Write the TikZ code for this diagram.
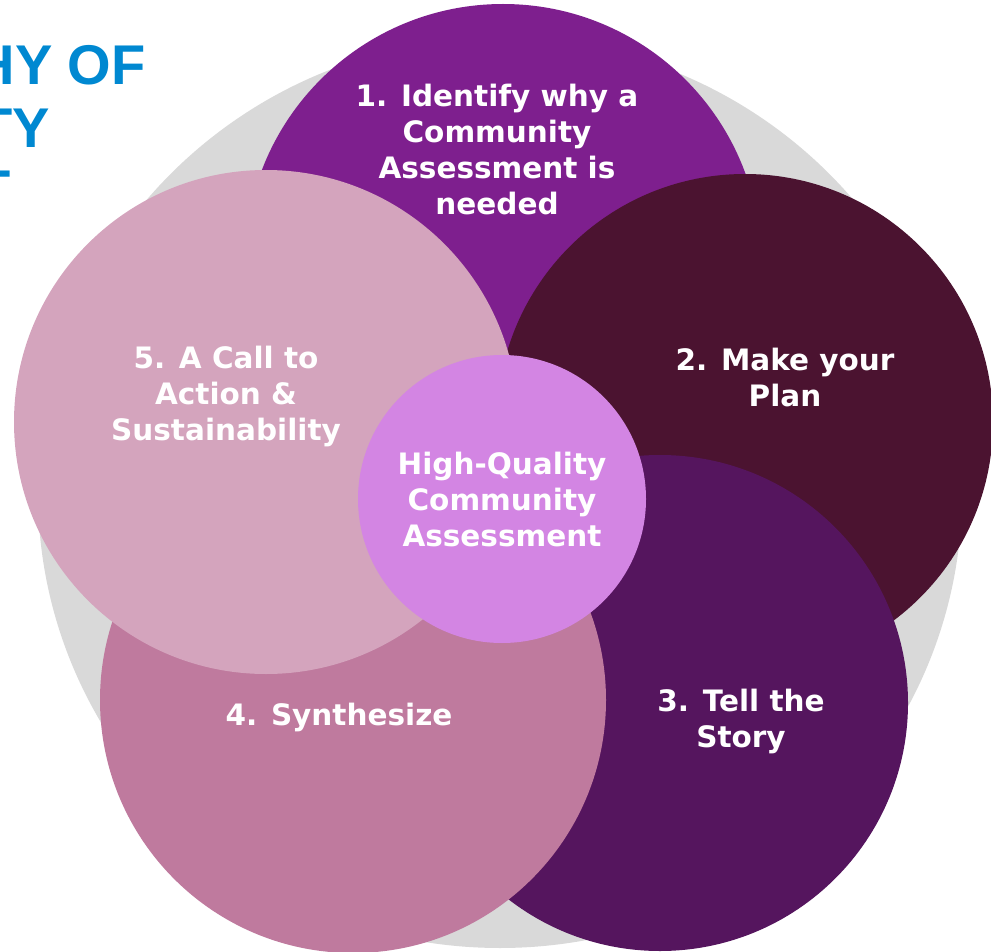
\documentclass[tikz,border=0pt]{standalone}
\usepackage{fontspec}
\newfontfamily\circfont{DejaVu Sans}
\newfontfamily\titlefont{Liberation Sans}
\usetikzlibrary{positioning}
\definecolor{ringgray}{HTML}{D9D9D9}
\definecolor{stepone}{HTML}{7E1F8E}
\definecolor{steptwo}{HTML}{4B1330}
\definecolor{stepthree}{HTML}{55155E}
\definecolor{stepfour}{HTML}{BF7A9E}
\definecolor{stepfive}{HTML}{D4A4BD}
\definecolor{hubpink}{HTML}{D385E3}
\definecolor{titleblue}{HTML}{0088D1}

\begin{document}
\begin{tikzpicture}
[x=1pt,y=-1pt,on grid,
  blob/.style={circle,inner sep=0pt,minimum size=#1},
  caption/.style={text=white,align=center,inner sep=0pt,
    font=\circfont\bfseries\fontsize{29.5}{36}\selectfont},
  heading/.style={text=titleblue,inner sep=0pt,anchor=base east,
    font=\titlefont\bfseries\fontsize{56}{56}\selectfont}]
\clip (0,0) rectangle (991,952);
%% title, cut off at the page edge
\node[heading] (h1) at (146,85) {HY OF};
\node[heading] (h2) at (50,148) {TY};
\node[heading] (h3) at (11,210) {T};
%% grey ring behind the steps
\fill[ringgray] (500,493) ellipse [x radius=462,y radius=455];
%% the five steps
\node[blob=516pt,fill=stepone] (c1) at (503,262) {};
\node[blob=496pt,fill=steptwo] (c2) at (745,422) {};
\node[blob=496pt,fill=stepthree] (c3) at (660,703) {};
\node[blob=506pt,fill=stepfour] (c4) at (353,700) {};
\node[blob=504pt,fill=stepfive] (c5) at (266,422) {};
%% centre
\node[blob=288pt,fill=hubpink,caption] (hub) at (502,499)
  {High-Quality\\Community\\Assessment};
%% step texts
\node[caption] (t1) [above left=112pt and 6pt of c1]
  {1. Identify why a\\Community\\Assessment is\\needed};
\node[caption] (t2) [above right=44pt and 40pt of c2] {2. Make your\\Plan};
\node[caption] (t3) [below right=18pt and 81pt of c3] {3. Tell the\\Story};
\node[caption] (t4) [below left=17pt and 14pt of c4] {4. Synthesize};
\node[caption] (t5) [above left=26pt and 40pt of c5]
  {5. A Call to\\Action \&\\Sustainability};
\end{tikzpicture}
\end{document}
